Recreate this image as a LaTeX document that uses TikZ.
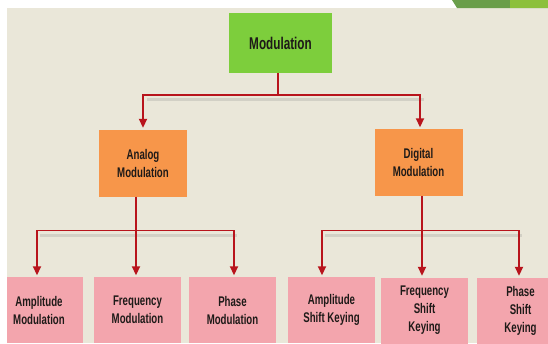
\documentclass[tikz,border=0pt]{standalone}
\usepackage{fontspec}
\setmainfont[FakeStretch=0.69]{Liberation Sans}
\usetikzlibrary{arrows.meta}
\definecolor{bgc}{HTML}{EAE7D9}
\definecolor{greenbox}{HTML}{7DCE3C}
\definecolor{orangebox}{HTML}{F7964A}
\definecolor{pinkbox}{HTML}{F3A5AD}
\definecolor{linered}{HTML}{B8141C}
\definecolor{wedgedark}{HTML}{6A9E4A}
\definecolor{wedgelight}{HTML}{8CC03C}
\definecolor{txt}{HTML}{1E1A18}
\tikzset{
  box/.style={inner sep=0pt, align=center, text=txt, font=\bfseries\fontsize{14}{18}\selectfont},
  topbox/.style={box, fill=greenbox, minimum width=103pt, minimum height=60pt, font=\bfseries\fontsize{17}{20}\selectfont},
  midbox/.style={box, fill=orangebox, minimum width=88pt, minimum height=67pt},
  leafbox/.style={box, fill=pinkbox, minimum width=87pt, minimum height=66pt},
  conn/.style={draw=linered, line width=1.8pt},
  arr/.style={conn, -{Triangle[length=9pt,width=8pt]}, shorten >=1.5pt},
  shadowline/.style={draw=black!50, opacity=0.22, line width=3pt}
}
\begin{document}
\begin{tikzpicture}[x=1pt,y=-1pt]
\useasboundingbox (0,0) rectangle (548,343);
\fill[white] (0,0) rectangle (548,343);
\fill[bgc] (7,8) rectangle (548,343);
\fill[wedgedark] (452,0) -- (548,0) -- (548,8) -- (457,8) -- cycle;
\fill[wedgelight] (510,0) rectangle (548,8);
\begin{scope}
\clip (7,8) rectangle (548,343);
% nodes
\node[topbox] (mod) at (280.5,43) {Modulation};
\node[midbox] (ana) at (143,163) {Analog\\Modulation};
\node[midbox] (dig) at (418.5,162.5) {Digital\\Modulation};
\node[leafbox] (am) at (39,310) {Amplitude\\Modulation};
\node[leafbox] (fm) at (137.5,310) {Frequency\\Modulation};
\node[leafbox] (pm) at (232.5,310) {Phase\\Modulation};
\node[leafbox] (ask) at (331.5,310) {Amplitude\\Shift Keying};
\node[leafbox] (fsk) at (424.5,310.5) {Frequency\\Shift\\Keying};
\node[leafbox] (psk) at (520.5,310.5) {Phase\\Shift\\Keying};
% junction coordinates
\coordinate (j0) at (278,95);
\coordinate (jl) at (136,230.5);
\coordinate (jr) at (422,230.5);
% shadows
\draw[shadowline] (147,99.5) -- (424,99.5);
\draw[shadowline] (40,235.5) -- (237,235.5);
\draw[shadowline] (325,235.5) -- (522,235.5);
% top connectors
\draw[conn] (mod.south -| j0) -- (j0);
\draw[arr] (j0) -| (ana.north);
\draw[arr] (j0) -| ([xshift=1.5pt]dig.north);
% left connectors
\draw[arr] (ana.south -| jl) -- (fm.north -| jl);
\draw[arr] (jl) -| ([xshift=-2pt]am.north);
\draw[arr] (jl) -| ([xshift=1.5pt]pm.north);
% right connectors
\draw[arr] (dig.south -| jr) -- (fsk.north -| jr);
\draw[arr] (jr) -| ([xshift=-9.5pt]ask.north);
\draw[arr] (jr) -| ([xshift=-1.5pt]psk.north);
\end{scope}
\end{tikzpicture}
\end{document}
